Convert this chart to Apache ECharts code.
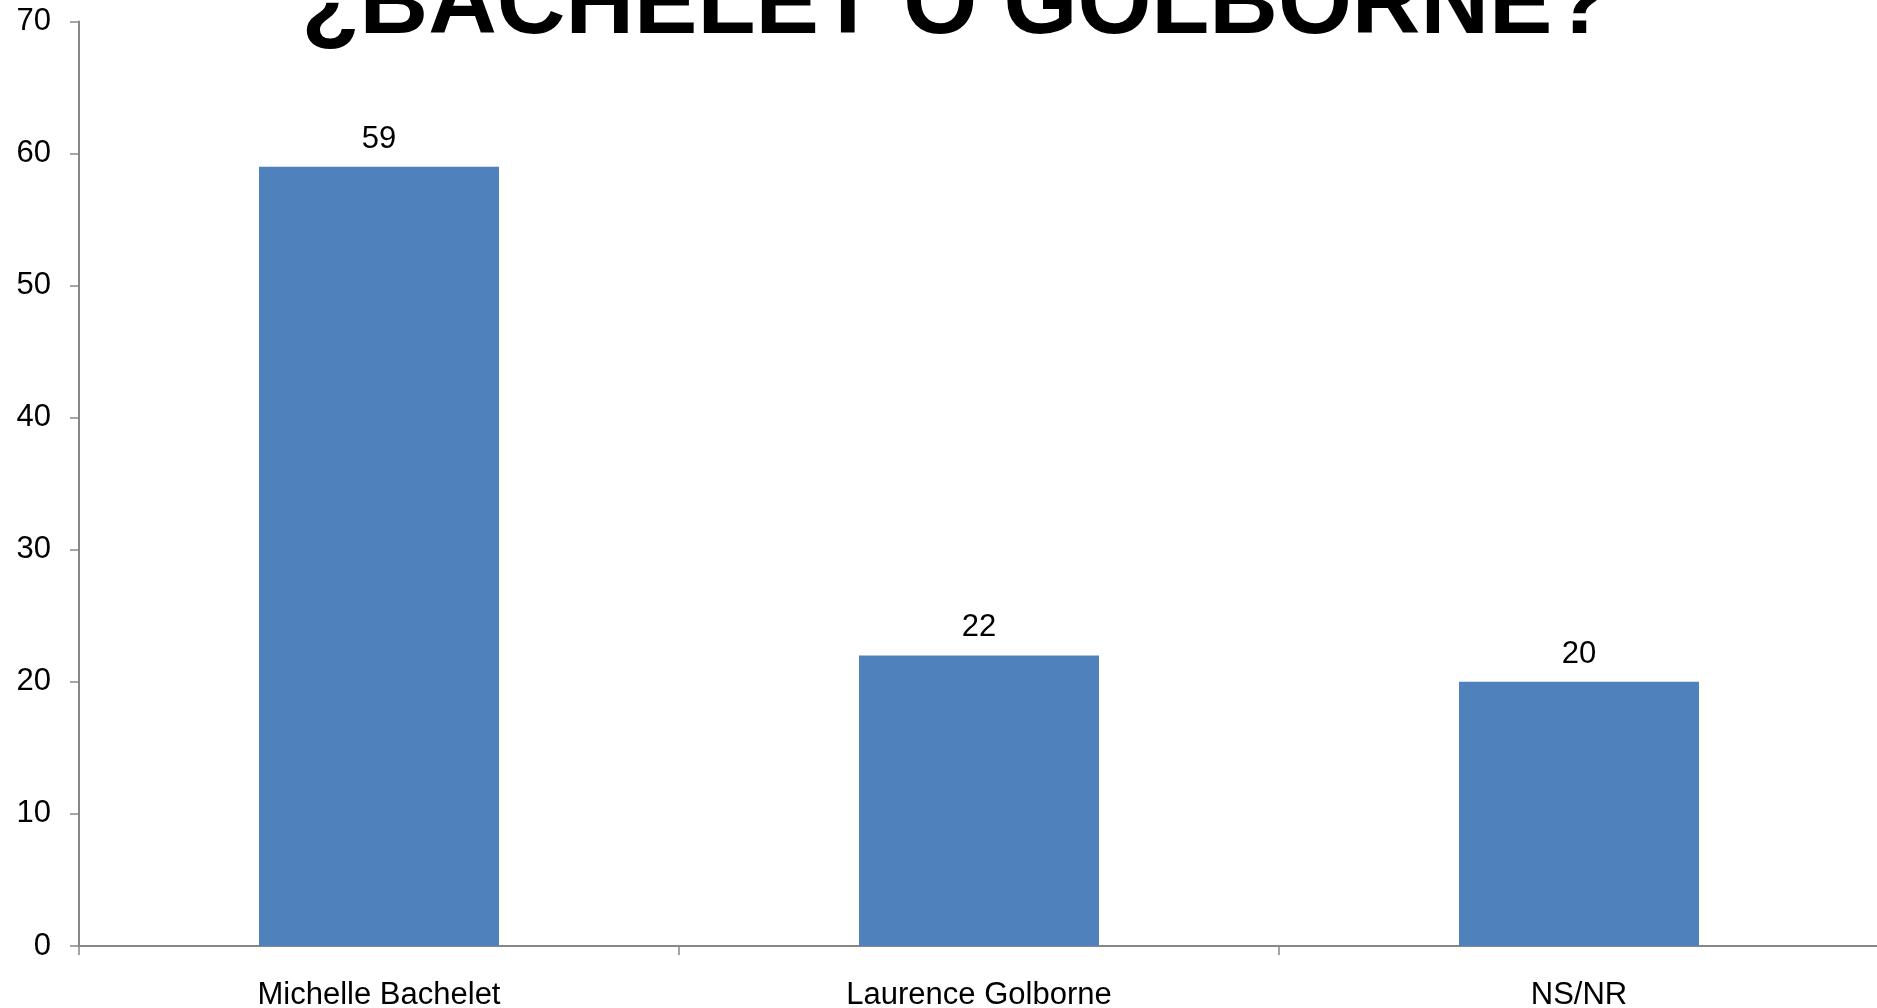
<!DOCTYPE html>
<html>
<head>
<meta charset="utf-8">
<script src="https://cdn.jsdelivr.net/npm/echarts@6/dist/echarts.min.js"></script>
<style>
html,body{margin:0;padding:0;background:#fff;}
#chart{width:1877px;height:1008px;}
</style>
</head>
<body>
<div id="chart"></div>
<script>
const titleText = '¿BACHELET O GOLBORNE?';
const categories = ['Michelle Bachelet', 'Laurence Golborne', 'NS/NR'];
const values = [59, 22, 20];
const yTicks = [0, 10, 20, 30, 40, 50, 60, 70];

const FONT = '"Liberation Sans", Arial, sans-serif';
const chart = echarts.init(document.getElementById('chart'), null, {renderer: 'canvas'});
chart.setOption({
  backgroundColor: '#ffffff',
  animation: false,
  graphic: [{
    type: 'text',
    x: 956,
    y: 7,
    style: {
      text: titleText,
      fill: '#000',
      font: 'bold 95px ' + FONT,
      align: 'center',
      verticalAlign: 'middle'
    }
  }],
  grid: {left: 79, top: 21.5, width: 1800, bottom: 62, containLabel: false, outerBoundsMode: 'none'},
  xAxis: {
    type: 'category',
    data: categories,
    boundaryGap: true,
    axisLine: {lineStyle: {color: '#878787', width: 2}},
    axisTick: {show: true, length: 9, lineStyle: {color: '#878787', width: 1.5}},
    axisLabel: {color: '#000', fontSize: 31, fontFamily: FONT, margin: 34}
  },
  yAxis: {
    type: 'value',
    min: yTicks[0],
    max: yTicks[yTicks.length - 1],
    interval: 10,
    splitLine: {show: false},
    axisLine: {show: true, lineStyle: {color: '#878787', width: 2}},
    axisTick: {show: true, length: 9, lineStyle: {color: '#878787', width: 1.5}},
    axisLabel: {color: '#000', fontSize: 31, fontFamily: FONT, margin: 28}
  },
  series: [{
    type: 'bar',
    data: values,
    barWidth: '40%',
    itemStyle: {color: '#4F81BD'},
    label: {show: true, position: 'top', distance: 12, color: '#000', fontSize: 31, fontFamily: FONT}
  }]
});
</script>
</body>
</html>
